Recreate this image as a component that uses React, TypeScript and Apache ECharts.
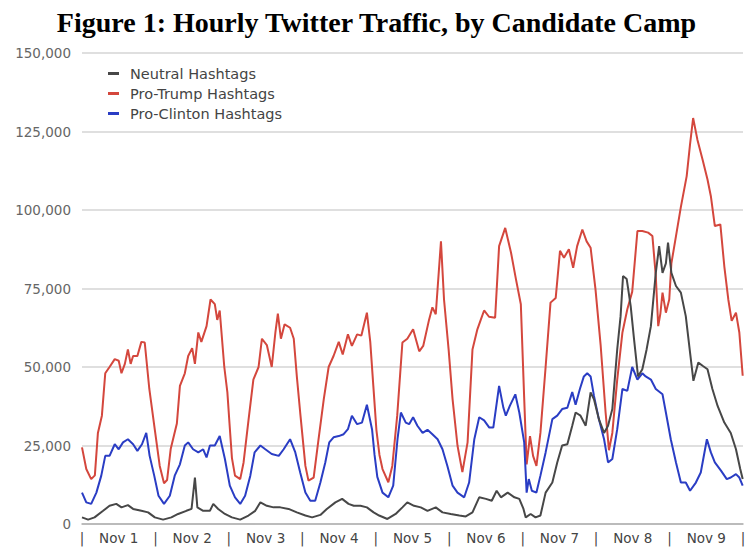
import React, { useEffect, useRef } from "react";
import * as echarts from "echarts";

const titleText = "Figure 1: Hourly Twitter Traffic, by Candidate Camp";
const seriesNames = ["Neutral Hashtags", "Pro-Trump Hashtags", "Pro-Clinton Hashtags"];
const dayLabels = ["Nov 1", "Nov 2", "Nov 3", "Nov 4", "Nov 5", "Nov 6", "Nov 7", "Nov 8", "Nov 9"];

const trumpHours = [0,1.4,3,4.2,5.2,6.5,7.6,9,10.7,12,12.9,14,15,15.9,16.7,18.1,19.4,20.5,22,23.8,25.4,26.8,27.8,29,31,32,33.6,34.7,36,36.9,38,39,40.7,42,43.4,44.2,45,46.5,47.5,48.2,49,50,51.7,52.8,54.4,56,57.7,58.8,60.4,62,63.2,64,65,66.2,68,69.2,70.2,71.3,73,74,75.7,77.3,79,80.6,82.2,83.9,85.2,86.9,88.2,89.9,91.3,93.1,94.2,95.2,96.2,97.2,98.2,100.1,101.4,103,104.7,106.3,108.2,110.2,111.5,113.4,114.5,115.6,117.3,118.3,119.8,121.1,122.7,124.3,126,127.6,129.2,130.3,131.4,133,135,136.3,138.3,140.2,141.8,143.4,144.5,145.3,146.4,147.4,148.5,149.8,151.5,153.1,154.8,156.2,157.5,159.1,160.5,161.8,163.5,164.9,166.2,167.8,169.5,171.1,172.2,173.3,174.9,176.6,178.2,179.8,181.5,183.1,185,186.4,187.5,188.3,189,189.7,190.8,191.9,192.6,194.1,195.7,197.6,198.7,199.7,201.1,202.8,204.4,205.5,206.8,208.6,209.9,211.2,212.3,213.7,214.8,215.9];
const trumpValues = [24400,17500,14300,15500,29000,34500,48000,50000,52500,52000,48000,51000,55600,51000,53500,53500,58000,57800,43000,30000,18500,13000,14000,24000,32000,44000,48000,53500,56000,51000,61000,58000,63000,71500,70000,65000,68000,50000,42000,32000,21000,15400,14300,19600,33000,46000,50000,59000,57000,50000,61000,67000,59000,63600,62500,59000,47000,35500,18500,13800,14800,27000,39700,50000,53500,58000,54000,60400,56700,60400,60000,67300,58000,44000,30000,22000,17500,13300,18500,34500,57800,59000,62000,55000,56700,65000,69000,66800,90000,71500,55600,39700,25000,16500,26000,55600,62000,65000,68000,66000,65700,88500,94300,86400,78000,70000,40000,19000,28000,21700,18500,29000,50000,70500,72000,87000,84800,87500,81600,88500,93800,90000,88000,74700,56700,35500,23500,29000,46000,61000,68400,74000,93300,93300,92800,91700,79000,63000,67000,73700,67300,71500,83000,91700,101000,110800,121000,129300,122400,116000,109700,104400,94900,95400,82000,71500,64700,67300,61000,47200];

const clintonHours = [0,1.4,3,4.7,6.3,7.6,9,10.7,12,13.4,15,16.7,18.1,19.6,21,22.1,23.6,25,26.8,28.7,30.3,32,33.6,34.7,36.3,38,39.6,40.7,41.8,43.4,45,46.7,48.3,50,51.7,53.3,55,56.4,58.3,59.9,62,64.3,65.9,68,69.7,71.3,73,74.6,76.2,77.9,79.5,80.8,82.2,83.9,85.5,86.9,88.2,89.9,91.5,93.1,94.8,95.6,96.5,98.2,100.1,101.7,103.1,104.2,105.8,106.9,108.2,109.6,111.3,112.9,114.5,116.2,117.8,119.4,121.1,122.7,124.9,126.5,128.2,129.8,131.4,133.1,134.4,136.3,137.7,138.5,139.8,141.6,142.9,144.5,145.3,146,147,148.5,149.8,151.5,153.7,155.3,156.9,158.6,160.2,161.3,162.7,164,165.1,166.2,167.3,168.9,170.6,171.9,173.3,174.9,176.6,178.2,179.8,181.5,183.1,184.2,185.9,187.5,189.7,190.8,192.4,194.1,195.7,197.3,198.7,200.6,202.2,204.2,205.5,206.8,208.8,210.7,212,213.7,214.8,215.9];
const clintonValues = [10000,6900,6400,10000,15400,21700,21700,25400,23800,26000,27000,25400,23300,25400,29000,21700,15400,9000,6400,9000,15400,19000,25000,26000,23800,22800,23800,21200,25000,25000,28000,20700,12200,8500,6400,9000,15400,22800,25000,23800,22300,21700,23800,27000,22800,16400,10000,7400,7400,13200,19600,26000,27600,28000,28600,30200,34500,31800,32300,38000,30000,22000,15000,10000,8500,12200,27000,35500,32300,31800,34000,31300,29000,30000,28600,27000,23800,18500,12200,10000,8500,13200,27000,34000,33000,30700,30700,44000,37000,34500,37600,41300,35500,26000,10000,14300,10600,10000,15400,22800,33400,34500,36600,37000,42000,38000,43000,47000,48000,47000,40800,33400,27000,19600,20700,30200,43000,42400,50000,46000,48000,47000,46000,43000,41300,35500,27000,19600,13200,13200,10600,13200,16400,27000,22800,19600,17000,14300,14800,15900,14800,12200];

const neutralHours = [0,2,4.1,6.9,9,11.2,12.9,15,16.7,19.4,21.6,23.8,26.5,29.2,31.4,34.1,35.8,36.9,37.7,39.6,41.8,42.9,44.5,46.7,49,51.7,54.4,56.6,58.3,60.4,62.6,64.8,67.5,70.2,73,75.2,77.9,80,82.8,85,87.1,88.8,91,93.1,95.3,97.1,99.8,102.5,104.7,106.3,108.5,110.7,112.9,115.6,117.8,120.5,123.3,125.4,127.6,129.8,132,133.9,135.5,136.9,139.1,141.3,142.9,144.2,145,146.6,148.2,149.8,151.5,153.7,155.3,156.9,158.6,160.2,161.3,162.9,164.6,166.2,167.3,168.9,170.6,171.9,173.3,174.9,176,176.8,178,179.3,180.4,181.7,183.1,184.5,185.9,187.5,188.6,189.7,190.8,191.5,192.6,194.1,195.7,197.3,198.7,199.8,201.4,202.8,204.4,206,207.7,209.9,212,213.7,215.1,215.9];
const neutralValues = [2100,1400,2100,4200,5800,6400,5300,6000,4800,4200,3700,2100,1400,2100,3200,4200,4800,14800,5300,4200,4200,6400,4800,3200,2100,1400,2700,4200,6900,5800,5300,5300,4800,3700,2700,2100,2900,4800,6900,8000,6400,5800,5800,5300,3700,2700,1600,3200,5300,6900,5800,5300,4200,5300,3700,3200,2700,2400,3700,8500,8000,7400,10600,8500,10000,8500,8000,5000,2100,3200,2100,2700,10000,13200,19600,25000,25400,31300,35500,34500,31300,41900,39700,33400,29000,31300,36600,55600,66200,79000,78000,69400,58800,47000,49300,55600,63000,80000,88500,80000,83000,89600,80000,75800,73700,66200,54600,45600,51400,50400,49300,43000,37600,32300,29000,23800,17500,14300];

const zip = (h: number[], v: number[]) => h.map((x, i) => [x, v[i]]);

export default function App() {
  const ref = useRef<HTMLDivElement>(null);
  useEffect(() => {
    document.body.style.margin = "0";
    if (!ref.current) return;
    const chart = echarts.init(ref.current, undefined, { renderer: "svg" });
    const sans = "DejaVu Sans";
    chart.setOption({
      animation: false,
      backgroundColor: "#ffffff",
      title: {
        text: titleText,
        left: "center",
        top: 3,
        textStyle: { fontFamily: "Liberation Serif", fontWeight: "bold", fontSize: 28, color: "#000" },
      },
      legend: {
        orient: "vertical",
        left: 103,
        top: 61,
        itemWidth: 11,
        itemHeight: 3,
        itemGap: 5,
        icon: "rect",
        data: seriesNames,
        textStyle: { fontFamily: sans, fontSize: 14.5, color: "#444", padding: [0, 0, 0, 6], lineHeight: 15 },
      },
      grid: { left: 82, right: 10, top: 53, bottom: 23 },
      xAxis: {
        type: "value",
        min: 0,
        max: 216,
        interval: 12,
        axisLine: { show: true, lineStyle: { color: "#b0b0b0", width: 1.5 } },
        axisTick: { show: false },
        splitLine: { show: false },
        axisLabel: {
          margin: 7,
          fontFamily: sans,
          fontSize: 13.5,
          color: "#444",
          showMinLabel: true,
          showMaxLabel: true,
          formatter: (v: number) => (v % 24 === 0 ? "|" : dayLabels[Math.floor(v / 24)]),
        },
      },
      yAxis: {
        type: "value",
        min: 0,
        max: 150000,
        interval: 25000,
        axisLine: { show: false },
        axisTick: { show: false },
        splitLine: { lineStyle: { color: "#d4d4d4", width: 1.5 } },
        axisLabel: {
          margin: 11,
          fontFamily: sans,
          fontSize: 13.5,
          color: "#666",
          formatter: (v: number) => v.toLocaleString("en-US"),
        },
      },
      series: [
        { name: seriesNames[0], type: "line", data: zip(neutralHours, neutralValues), showSymbol: false, lineStyle: { color: "#474747", width: 2 }, itemStyle: { color: "#474747" }, z: 3 },
        { name: seriesNames[1], type: "line", data: zip(trumpHours, trumpValues), showSymbol: false, lineStyle: { color: "#d4473d", width: 2 }, itemStyle: { color: "#d4473d" }, z: 2 },
        { name: seriesNames[2], type: "line", data: zip(clintonHours, clintonValues), showSymbol: false, lineStyle: { color: "#2a3dc4", width: 2 }, itemStyle: { color: "#2a3dc4" }, z: 2 },
      ],
    });
    return () => chart.dispose();
  }, []);
  return <div ref={ref} style={{ width: 753, height: 547 }} />;
}
